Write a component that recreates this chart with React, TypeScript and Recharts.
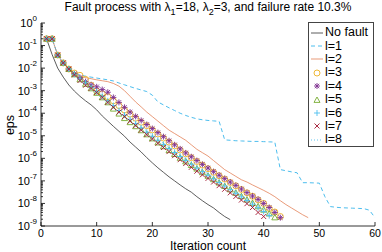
import React from 'react';
import { LineChart, Line, XAxis, YAxis } from 'recharts';

// log10(eps), one value per iteration starting at 1
const noFault = [-0.7, -1.4, -2.0, -2.4, -2.75, -3.02, -3.25, -3.45, -3.63, -3.85, -4.12, -4.35, -4.58, -4.8, -5.02, -5.28, -5.5, -5.72, -5.97, -6.2, -6.42, -6.62, -6.82, -7.0, -7.18, -7.35, -7.5, -7.7, -7.88, -8.05, -8.2, -8.4, -8.58, -8.72];
const l1 = [-0.7, -0.7, -1.42, -1.77, -2.04, -2.22, -2.3, -2.36, -2.4, -2.44, -2.48, -2.52, -2.57, -2.66, -2.74, -2.82, -2.9, -2.97, -3.04, -3.2, -3.5, -3.63, -3.76, -3.88, -4.0, -4.1, -4.18, -4.25, -4.29, -4.32, -4.34, -4.36, -5.18, -5.2, -5.22, -5.23, -5.24, -5.25, -5.25, -5.26, -5.27, -5.28, -6.5, -6.55, -6.6, -6.64, -7.08, -7.08, -7.09, -7.1, -7.7, -8.14, -8.17, -8.19, -8.2, -8.21, -8.22, -8.23, -8.3, -8.63];
const l2 = [-0.7, -0.7, -1.42, -1.77, -2.04, -2.22, -2.35, -2.42, -2.47, -2.52, -2.56, -2.6, -2.68, -2.8, -3.0, -3.25, -3.5, -3.72, -3.95, -4.15, -4.35, -4.55, -4.75, -4.9, -5.05, -5.2, -5.4, -5.6, -5.75, -5.9, -6.1, -6.3, -6.5, -6.65, -6.8, -6.95, -7.05, -7.18, -7.3, -7.42, -7.55, -7.7, -7.88, -8.05, -8.2, -8.35, -8.5, -8.63];
const l3 = [-0.7, -0.7, -1.42, -1.77, -2.04, -2.22, -2.32, -2.5, -2.76, -3.02, -3.14, -3.27, -3.45, -3.66, -3.86, -4.04, -4.22, -4.4, -4.55, -4.74, -4.92, -5.1, -5.28, -5.45, -5.63, -5.8, -5.97, -6.14, -6.3, -6.46, -6.62, -6.77, -6.92, -7.07, -7.22, -7.38, -7.53, -7.68, -7.84, -8.0, -8.22, -8.38, -8.58];
const l4 = [-0.7, -0.7, -1.42, -1.77, -2.04, -2.25, -2.42, -2.6, -2.74, -2.83, -2.95, -3.07, -3.3, -3.52, -3.74, -3.95, -4.14, -4.32, -4.5, -4.68, -4.86, -5.04, -5.22, -5.4, -5.58, -5.76, -5.93, -6.1, -6.27, -6.43, -6.59, -6.75, -6.9, -7.05, -7.2, -7.36, -7.52, -7.67, -7.82, -8.0, -8.18, -8.4, -8.63];
const l5 = [-0.7, -0.7, -1.42, -1.77, -2.04, -2.28, -2.5, -2.7, -2.9, -3.1, -3.3, -3.52, -3.8, -4.02, -4.22, -4.4, -4.58, -4.76, -4.94, -5.12, -5.3, -5.47, -5.64, -5.81, -5.98, -6.14, -6.3, -6.46, -6.62, -6.78, -6.93, -7.08, -7.23, -7.38, -7.53, -7.68, -7.83, -7.98, -8.13, -8.28, -8.45, -8.62];
const l6 = [-0.7, -0.7, -1.42, -1.77, -2.04, -2.27, -2.47, -2.66, -2.85, -3.05, -3.25, -3.45, -3.66, -3.88, -4.08, -4.27, -4.46, -4.65, -4.84, -5.02, -5.2, -5.38, -5.56, -5.74, -5.92, -6.09, -6.26, -6.43, -6.59, -6.75, -6.91, -7.07, -7.23, -7.39, -7.55, -7.71, -7.87, -8.03, -8.19, -8.36, -8.54];
const l7 = [-0.7, -0.7, -1.42, -1.77, -2.04, -2.3, -2.55, -2.76, -2.9, -3.08, -3.3, -3.52, -3.74, -3.95, -4.15, -4.35, -4.55, -4.75, -4.95, -5.14, -5.33, -5.52, -5.7, -5.88, -6.06, -6.23, -6.4, -6.57, -6.73, -6.89, -7.05, -7.21, -7.37, -7.53, -7.69, -7.85, -8.01, -8.18, -8.4, -8.58];
const l8 = [-0.7, -0.7, -1.42, -1.77, -2.04, -2.26, -2.46, -2.65, -2.84, -3.03, -3.22, -3.42, -3.62, -3.83, -4.03, -4.22, -4.41, -4.6, -4.79, -4.97, -5.15, -5.33, -5.51, -5.69, -5.86, -6.03, -6.2, -6.37, -6.53, -6.69, -6.85, -7.01, -7.17, -7.33, -7.49, -7.65, -7.81, -7.97, -8.14, -8.32, -8.52];

const seriesNames = ['No fault', 'l=1', 'l=2', 'l=3', 'l=4', 'l=5', 'l=6', 'l=7', 'l=8'];
const seriesData = [noFault, l1, l2, l3, l4, l5, l6, l7, l8];
const xTicks = [0, 10, 20, 30, 40, 50, 60];
const decades = [-9, -8, -7, -6, -5, -4, -3, -2, -1];

const FONT = '"Liberation Sans", Arial, Helvetica, sans-serif';

// styling per series: line dash or marker kind
const looks = [
  { color: '#333333', width: 0.8, dash: undefined, marker: null },
  { color: '#4DBEEE', width: 1, dash: '4 3', marker: null },
  { color: '#E07040', width: 0.7, dash: undefined, marker: null },
  { color: '#EDB120', width: 0, dash: undefined, marker: 'circle' },
  { color: '#7E2F8E', width: 0, dash: undefined, marker: 'star' },
  { color: '#77AC30', width: 0, dash: undefined, marker: 'triangle' },
  { color: '#4DBEEE', width: 0, dash: undefined, marker: 'plus' },
  { color: '#A2142F', width: 0, dash: undefined, marker: 'x' },
  { color: '#4DBEEE', width: 0.9, dash: '1 2', marker: null },
];

const iterations = Array.from({ length: 60 }, (_, i) => i + 1);
const rows = iterations.map((it, i) => {
  const row: Record<string, number | null> = { iter: it };
  seriesData.forEach((s, k) => {
    row['s' + k] = s[i] !== undefined ? Math.pow(10, s[i]) : null;
  });
  return row;
});

const yTicks: number[] = [];
decades.forEach((d) => {
  for (let m = 1; m <= 9; m++) yTicks.push(m * Math.pow(10, d));
});
yTicks.push(1);

const isMajor = (v: number) => {
  const e = Math.log10(v);
  return Math.abs(e - Math.round(e)) < 1e-6;
};

function Marker({ kind, cx, cy, color }: { kind: string; cx: number; cy: number; color: string }) {
  const r = 3;
  if (kind === 'circle') return <circle cx={cx} cy={cy} r={r} fill="none" stroke={color} strokeWidth={0.9} />;
  if (kind === 'triangle')
    return <polygon points={`${cx},${cy - r} ${cx - r},${cy + r * 0.8} ${cx + r},${cy + r * 0.8}`} fill="none" stroke={color} strokeWidth={0.9} />;
  if (kind === 'plus')
    return (
      <g stroke={color} strokeWidth={0.9}>
        <line x1={cx - r} y1={cy} x2={cx + r} y2={cy} />
        <line x1={cx} y1={cy - r} x2={cx} y2={cy + r} />
      </g>
    );
  if (kind === 'x')
    return (
      <g stroke={color} strokeWidth={0.9}>
        <line x1={cx - 2.5} y1={cy - 2.5} x2={cx + 2.5} y2={cy + 2.5} />
        <line x1={cx - 2.5} y1={cy + 2.5} x2={cx + 2.5} y2={cy - 2.5} />
      </g>
    );
  // asterisk
  return (
    <g stroke={color} strokeWidth={0.9}>
      <line x1={cx - r} y1={cy} x2={cx + r} y2={cy} />
      <line x1={cx} y1={cy - r} x2={cx} y2={cy + r} />
      <line x1={cx - 2.2} y1={cy - 2.2} x2={cx + 2.2} y2={cy + 2.2} />
      <line x1={cx - 2.2} y1={cy + 2.2} x2={cx + 2.2} y2={cy - 2.2} />
    </g>
  );
}

const LeftTick = (props: any) => {
  const { x, y, payload } = props;
  const major = isMajor(payload.value);
  const len = major ? 4 : 2;
  return (
    <g>
      <line x1={x} y1={y} x2={x + len} y2={y} stroke="#000" strokeWidth={0.8} />
      {major && (
        <text x={x - 4} y={y + 4} textAnchor="end" fontSize={11} fontFamily={FONT} fill="#000">
          10
          <tspan dy={-6} fontSize={8}>
            {Math.round(Math.log10(payload.value))}
          </tspan>
        </text>
      )}
    </g>
  );
};

const RightTick = (props: any) => {
  const { x, y, payload } = props;
  const len = isMajor(payload.value) ? 4 : 2;
  return <line x1={x} y1={y} x2={x - len} y2={y} stroke="#000" strokeWidth={0.8} />;
};

const BottomTick = (props: any) => {
  const { x, y, payload } = props;
  return (
    <g>
      <line x1={x} y1={y} x2={x} y2={y - 4} stroke="#000" strokeWidth={0.8} />
      <text x={x} y={y + 11} textAnchor="middle" fontSize={10.5} fontFamily={FONT} fill="#000">
        {payload.value}
      </text>
    </g>
  );
};

const TopTick = (props: any) => {
  const { x, y } = props;
  return <line x1={x} y1={y} x2={x} y2={y + 4} stroke="#000" strokeWidth={0.8} />;
};

function LegendIcon({ k }: { k: number }) {
  const lk = looks[k];
  return (
    <svg width={14} height={12} style={{ display: 'block' }}>
      {lk.marker ? (
        <Marker kind={lk.marker} cx={7} cy={6} color={lk.color} />
      ) : (
        <line x1={1} y1={6} x2={13} y2={6} stroke={lk.color} strokeWidth={lk.width} strokeDasharray={lk.dash} />
      )}
    </svg>
  );
}

export default function App() {
  return (
    <div style={{ position: 'absolute', left: 0, top: 0, width: 382, height: 252, background: '#fff', fontFamily: FONT, overflow: 'hidden' }}>
      <div style={{ position: 'absolute', left: 0, top: 0, width: 416, textAlign: 'center', fontSize: 12, lineHeight: '14px', whiteSpace: 'nowrap' }}>
        Fault process with λ<span style={{ position: 'relative', top: 4, fontSize: 9 }}>1</span>=18, λ
        <span style={{ position: 'relative', top: 4, fontSize: 9 }}>2</span>=3, and failure rate 10.3%
      </div>
      <LineChart width={382} height={252} data={rows} margin={{ top: 23, right: 7, bottom: 0, left: 0 }}>
        <XAxis
          dataKey="iter"
          type="number"
          domain={[0, 60]}
          ticks={xTicks}
          interval={0}
          height={26}
          tickSize={0}
          tickMargin={0}
          tick={BottomTick}
          axisLine={{ stroke: '#000', strokeWidth: 0.8 }}
        />
        <XAxis
          xAxisId="top"
          orientation="top"
          dataKey="iter"
          type="number"
          domain={[0, 60]}
          ticks={xTicks}
          interval={0}
          height={0}
          tickSize={0}
          tickMargin={0}
          tick={TopTick}
          axisLine={{ stroke: '#000', strokeWidth: 0.8 }}
        />
        <YAxis
          type="number"
          scale="log"
          domain={[1e-9, 1]}
          allowDataOverflow
          ticks={yTicks}
          interval={0}
          width={41}
          tickSize={0}
          tickMargin={0}
          tick={LeftTick}
          axisLine={{ stroke: '#000', strokeWidth: 0.8 }}
        />
        <YAxis
          yAxisId="right"
          orientation="right"
          type="number"
          scale="log"
          domain={[1e-9, 1]}
          allowDataOverflow
          ticks={yTicks}
          interval={0}
          width={0}
          tickSize={0}
          tickMargin={0}
          tick={RightTick}
          axisLine={{ stroke: '#000', strokeWidth: 0.8 }}
        />
        {seriesNames.map((name, k) => {
          const lk = looks[k];
          return (
            <Line
              key={name}
              name={name}
              dataKey={'s' + k}
              type="linear"
              stroke={lk.marker ? 'none' : lk.color}
              strokeWidth={lk.width}
              strokeDasharray={lk.dash}
              isAnimationActive={false}
              activeDot={false}
              dot={
                lk.marker
                  ? (p: any) =>
                      p.value == null || p.cy == null ? (
                        <g key={`${name}-${p.index}`} />
                      ) : (
                        <g key={`${name}-${p.index}`}>
                          <Marker kind={lk.marker as string} cx={p.cx} cy={p.cy} color={lk.color} />
                        </g>
                      )
                  : false
              }
            />
          );
        })}
      </LineChart>
      <div
        style={{
          position: 'absolute',
          left: 308,
          top: 22,
          width: 66,
          height: 125,
          border: '1px solid #444',
          background: '#fff',
          boxSizing: 'border-box',
          paddingTop: 3,
        }}
      >
        {seriesNames.map((name, k) => (
          <div key={name} style={{ display: 'flex', alignItems: 'center', height: 13.4, fontSize: 12.5, lineHeight: '13px' }}>
            <div style={{ width: 15, paddingLeft: 1 }}>
              <LegendIcon k={k} />
            </div>
            <span>{name}</span>
          </div>
        ))}
      </div>
      <div style={{ position: 'absolute', left: 0, top: 240, width: 416, textAlign: 'center', fontSize: 12, lineHeight: '12px' }}>
        Iteration count
      </div>
      <div
        style={{
          position: 'absolute',
          left: 10,
          top: 125,
          fontSize: 12.5,
          lineHeight: '14px',
          transform: 'translate(-50%, -50%) rotate(-90deg)',
        }}
      >
        eps
      </div>
    </div>
  );
}
